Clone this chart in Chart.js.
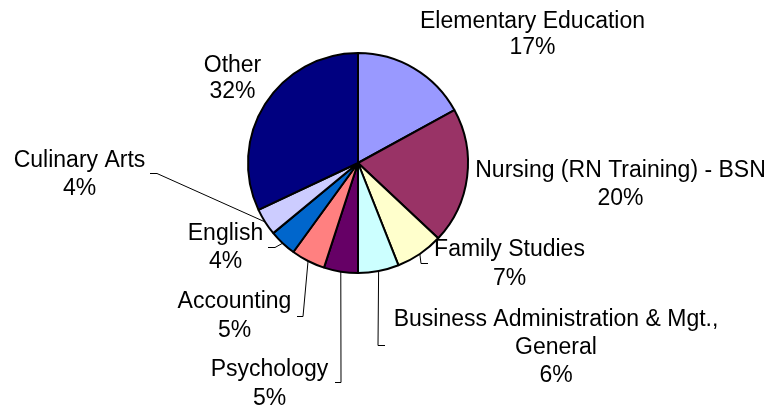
<!DOCTYPE html>
<html>
<head>
<meta charset="utf-8">
<script src="https://cdn.jsdelivr.net/npm/chart.js@4/dist/chart.umd.min.js"></script>
<style>
  html, body { margin: 0; padding: 0; background: #fff; }
  canvas { display: block; }
</style>
</head>
<body>
<canvas id="c" width="772" height="409"></canvas>
<script>
// ---- data ----
const categories = [
  "Elementary Education",
  "Nursing (RN Training) - BSN",
  "Family Studies",
  "Business Administration & Mgt.,\nGeneral",
  "Psychology",
  "Accounting",
  "English",
  "Culinary Arts",
  "Other"
];
const percents = [17, 20, 7, 6, 5, 5, 4, 4, 32];
const colors = ["#9999FF", "#993366", "#FFFFCC", "#CCFFFF", "#660066", "#FF8080", "#0066CC", "#CCCCFF", "#000080"];

// ---- label layout (center x, first baseline, line gap, leader start, leader elbow) ----
const labelLayout = [
  { cx: 532.5, y: 28,  gap: 26 },
  { cx: 620.5, y: 177, gap: 28 },
  { cx: 509.5, y: 256, gap: 29, lead: [[428, 263], [421, 263]] },
  { cx: 556,   y: 326, gap: 28, lead: [[385, 345], [378, 345]] },
  { cx: 269.5, y: 376, gap: 29, lead: [[335, 382], [341, 382]] },
  { cx: 234.5, y: 308, gap: 29, lead: [[297, 316], [303, 316]] },
  { cx: 225.5, y: 240, gap: 28, lead: [[268, 247], [275, 247]] },
  { cx: 79.5,  y: 167, gap: 28, lead: [[150, 173], [157, 173]] },
  { cx: 232.5, y: 72,  gap: 26 }
];

const labelPlugin = {
  id: 'pieLabels',
  afterDatasetsDraw(chart) {
    const ctx = chart.ctx;
    const meta = chart.getDatasetMeta(0);
    ctx.save();
    meta.data.forEach((arc, i) => {
      const L = labelLayout[i];
      const p = arc.getProps(['x', 'y', 'startAngle', 'endAngle', 'outerRadius'], true);
      if (L.lead) {
        const mid = (p.startAngle + p.endAngle) / 2;
        const ex = p.x + Math.cos(mid) * p.outerRadius;
        const ey = p.y + Math.sin(mid) * p.outerRadius;
        ctx.beginPath();
        ctx.strokeStyle = '#000';
        ctx.lineWidth = 1;
        ctx.moveTo(L.lead[0][0], L.lead[0][1] + 0.5);
        ctx.lineTo(L.lead[1][0], L.lead[1][1] + 0.5);
        ctx.lineTo(ex, ey);
        ctx.stroke();
      }
      const lines = categories[i].split('\n').concat([percents[i] + '%']);
      ctx.fillStyle = '#000';
      ctx.font = '23px "Liberation Sans", Arial, sans-serif';
      ctx.textAlign = 'center';
      ctx.textBaseline = 'alphabetic';
      lines.forEach((t, k) => ctx.fillText(t, L.cx, L.y + k * L.gap));
    });
    ctx.restore();
  }
};

new Chart(document.getElementById('c'), {
  type: 'pie',
  data: {
    labels: categories,
    datasets: [{
      data: percents,
      backgroundColor: colors,
      borderColor: '#000',
      borderWidth: 2
    }]
  },
  options: {
    responsive: false,
    animation: false,
    layout: { padding: { left: 247, right: 303, top: 52, bottom: 135 } },
    plugins: { legend: { display: false }, tooltip: { enabled: false } }
  },
  plugins: [labelPlugin]
});
</script>
</body>
</html>
